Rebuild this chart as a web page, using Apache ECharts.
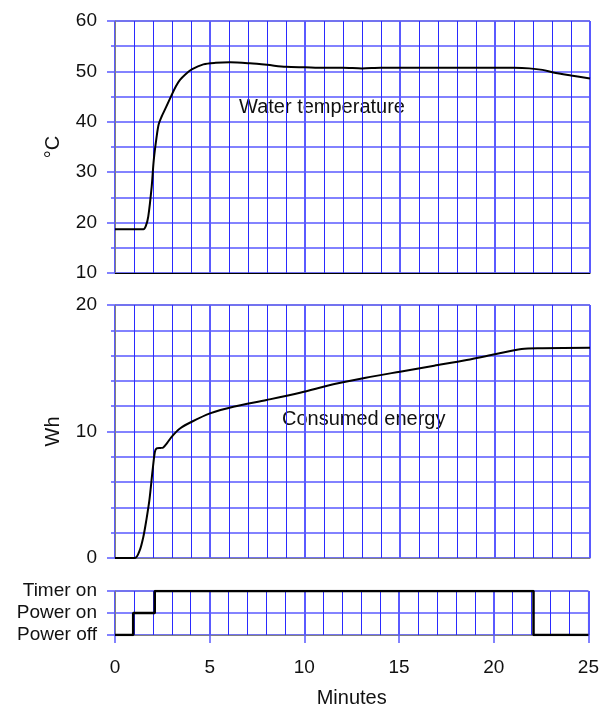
<!DOCTYPE html>
<html>
<head>
<meta charset="utf-8">
<script src="https://cdn.jsdelivr.net/npm/echarts@6/dist/echarts.min.js"></script>
<style>
  html, body { margin: 0; padding: 0; background: #fff; }
  #chart { width: 602px; height: 709px; }
</style>
</head>
<body>
<div id="chart"></div>
<script>
// water temperature (°C) vs minutes
const tempMinutes = [0, 1.5, 1.62, 1.75, 1.93, 2.04, 2.19, 2.3, 2.45, 2.7, 2.98, 3.2, 3.42, 3.7, 4.04, 4.65, 5.3, 6.05, 7.1, 8, 9, 10, 11, 12, 13, 14, 15, 16, 17, 18, 19, 20, 21, 21.8, 22.5, 23.07, 24, 25]
const tempValues = [18.7, 18.7, 19.3, 21.2, 27.1, 32.4, 37.0, 39.5, 41.0, 43.0, 45.3, 47.0, 48.3, 49.4, 50.4, 51.4, 51.7, 51.8, 51.6, 51.3, 50.9, 50.8, 50.7, 50.7, 50.6, 50.7, 50.7, 50.7, 50.7, 50.7, 50.7, 50.7, 50.7, 50.6, 50.3, 49.8, 49.2, 48.6]

// consumed energy (Wh) vs minutes
const energyMinutes = [0, 1.05, 1.3, 1.49, 1.65, 1.81, 1.98, 2.1, 2.19, 2.4, 2.54, 2.75, 2.98, 3.42, 4.04, 5, 6.23, 7.98, 9.74, 11.49, 13.2, 15, 16.8, 18.51, 20, 21.4, 22.5, 25]
const energyValues = [0, 0, 0.6, 1.66, 3.0, 4.57, 6.94, 8.4, 8.66, 8.7, 8.74, 9.1, 9.58, 10.24, 10.77, 11.43, 11.96, 12.49, 13.06, 13.73, 14.25, 14.73, 15.2, 15.65, 16.1, 16.52, 16.58, 16.63]

// device state vs minutes (0 = Power off, 1 = Power on, 2 = Timer on)
const stateMinutes = [0, 0.96, 2.1, 22.1, 25]
const stateValues = [0, 1, 2, 0, 0]
const stateLabels = ['Power off', 'Power on', 'Timer on']

const pair = (xs, ys) => xs.map((x, i) => [x, ys[i]])

const major = '#5a5aff'
const minor = '#2a2aff'
const frame = '#808080'
const family = 'Liberation Sans, Arial, sans-serif'
const tickFont = { fontFamily: family, fontSize: 19, color: '#111' }
const nameFont = { fontFamily: family, fontSize: 20, color: '#111' }

const xAxisFor = (idx, showLabels, lineColor) => ({
  type: 'value', gridIndex: idx, min: 0, max: 25, interval: 5,
  axisLine: { show: true, lineStyle: { color: lineColor, width: 1 } },
  axisTick: { show: showLabels, length: 8, lineStyle: { color: major, width: 1.5 } },
  axisLabel: showLabels ? Object.assign({ margin: 23 }, tickFont) : { show: false },
  splitLine: { show: true, lineStyle: { color: major, width: 2 } },
  minorTick: { show: false, splitNumber: 5 },
  minorSplitLine: { show: true, lineStyle: { color: minor, width: 1 } },
  name: showLabels ? 'Minutes' : '',
  nameLocation: 'middle',
  nameGap: 53,
  nameTextStyle: nameFont
})

const yAxisFor = (idx, min, max, interval, minorSplit, name) => ({
  type: 'value', gridIndex: idx, min: min, max: max, interval: interval,
  axisLine: { show: true, lineStyle: { color: frame } },
  axisTick: { show: true, length: 8, lineStyle: { color: major, width: 1.5 } },
  minorTick: { show: minorSplit > 0, splitNumber: minorSplit || 5, length: 4, lineStyle: { color: major, width: 1.5 } },
  axisLabel: Object.assign({ margin: 18 }, tickFont),
  splitLine: { show: true, lineStyle: { color: major, width: 1.5 } },
  minorSplitLine: { show: minorSplit > 0, lineStyle: { color: major, width: 1.5 } },
  name: name, nameLocation: 'middle', nameGap: 52, nameRotate: 90, nameTextStyle: nameFont
})

const stateAxis = yAxisFor(2, 0, 2, 1, 0, '')
stateAxis.axisLabel.formatter = v => stateLabels[v] || ''

const option = {
  animation: false,
  backgroundColor: '#fff',
  grid: [
    { left: 115, width: 475, top: 21, height: 252, show: true, borderColor: frame, borderWidth: 1 },
    { left: 115, width: 475, top: 305, height: 253, show: true, borderColor: frame, borderWidth: 1 },
    { left: 115, width: 475, top: 591, height: 44, show: true, borderColor: frame, borderWidth: 1 }
  ],
  xAxis: [
    xAxisFor(0, false, '#000'),
    xAxisFor(1, false, frame),
    xAxisFor(2, true, frame)
  ],
  yAxis: [
    yAxisFor(0, 10, 60, 10, 2, '°C'),
    yAxisFor(1, 0, 20, 10, 5, 'Wh'),
    stateAxis
  ],
  graphic: [
    { type: 'text', left: 239, top: 97, style: { text: 'Water temperature', fill: '#111', font: '20px Liberation Sans, Arial, sans-serif' } },
    { type: 'text', left: 282, top: 409, style: { text: 'Consumed energy', fill: '#111', font: '20px Liberation Sans, Arial, sans-serif' } }
  ],
  series: [
    {
      type: 'line', xAxisIndex: 0, yAxisIndex: 0, data: pair(tempMinutes, tempValues),
      smooth: 0.3, showSymbol: false, lineStyle: { color: '#000', width: 2 }, z: 5
    },
    {
      type: 'line', xAxisIndex: 1, yAxisIndex: 1, data: pair(energyMinutes, energyValues),
      smooth: 0.3, showSymbol: false, lineStyle: { color: '#000', width: 2 }, z: 5
    },
    {
      type: 'line', xAxisIndex: 2, yAxisIndex: 2, data: pair(stateMinutes, stateValues),
      step: 'end', showSymbol: false, lineStyle: { color: '#000', width: 2.5 }, z: 5
    }
  ]
}

const myChart = echarts.init(document.getElementById('chart'))
myChart.setOption(option)
</script>
</body>
</html>
